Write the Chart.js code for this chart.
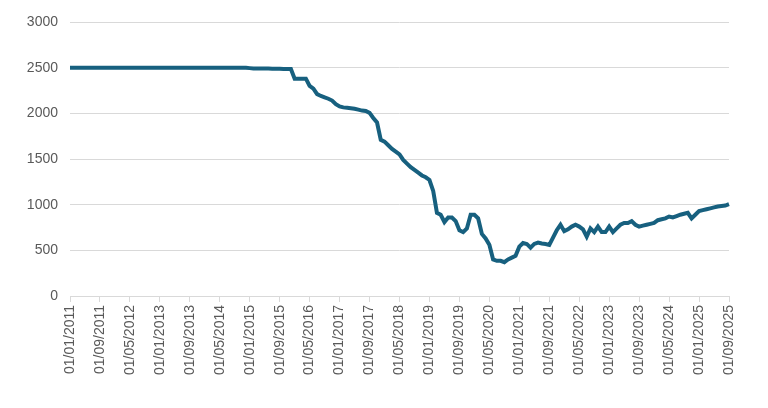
<!DOCTYPE html>
<html>
<head>
<meta charset="utf-8">
<script src="https://cdn.jsdelivr.net/npm/chart.js@4"></script>
<style>
  html, body { margin: 0; background: #fff; }
  #wrap { width: 768px; height: 408px; }
</style>
</head>
<body>
<div id="wrap"><canvas id="c"></canvas></div>
<script>
// monthly labels, 01/01/2011 .. 01/09/2025
const labels = [];
for (let y = 2011, m = 1; y < 2025 || (y === 2025 && m <= 9); ) {
  labels.push('01/' + String(m).padStart(2, '0') + '/' + y);
  m++; if (m > 12) { m = 1; y++; }
}

const values = [
  2500, 2500, 2500, 2500, 2500, 2500, 2500, 2500, 2500, 2500, 2500, 2500,
  2500, 2500, 2500, 2500, 2500, 2500, 2500, 2500, 2500, 2500, 2500, 2500,
  2500, 2500, 2500, 2500, 2500, 2500, 2500, 2500, 2500, 2500, 2500, 2500,
  2500, 2500, 2500, 2500, 2500, 2500, 2500, 2500, 2500, 2500, 2500, 2500,
  2495, 2490, 2490, 2490, 2490, 2490, 2488, 2488, 2488, 2485, 2485, 2485,
  2380, 2380, 2380, 2380, 2300, 2270, 2210, 2190, 2175, 2160, 2140, 2100,
  2075, 2065, 2060, 2055, 2050, 2040, 2030, 2025, 2005, 1950, 1900, 1710,
  1690, 1650, 1610, 1580, 1550, 1490, 1450, 1410, 1380, 1350, 1320, 1300,
  1270, 1150, 910, 890, 810, 860, 860, 820, 720, 700, 740, 890,
  890, 850, 680, 630, 560, 400, 385, 385, 370, 400, 420, 440,
  540, 580, 570, 530, 570, 585, 575, 570, 560, 640, 720, 780,
  710, 730, 760, 780, 760, 730, 650, 740, 700, 760, 700, 700,
  760, 700, 740, 780, 800, 800, 820, 780, 760, 770, 780, 790,
  800, 830, 840, 850, 870, 860, 875, 890, 900, 910, 850, 890,
  930, 940, 950, 960, 970, 980, 985, 990, 1005
];

const yTicks = [0, 500, 1000, 1500, 2000, 2500, 3000];

const theme = { text: '#595959', grid: '#d9d9d9', line: '#17607f' };
const font = { family: 'Liberation Sans, Arial', size: 14 };

new Chart(document.getElementById('c'), {
  type: 'line',
  data: {
    labels,
    datasets: [{
      data: values,
      borderColor: theme.line,
      borderWidth: 4,
      pointRadius: 0,
      tension: 0,
    }],
  },
  options: {
    responsive: true,
    maintainAspectRatio: false,
    animation: false,
    layout: { padding: { top: 22, right: 39, left: 6, bottom: 0 } },
    plugins: { legend: { display: false }, tooltip: { enabled: false } },
    scales: {
      x: {
        offset: false,
        afterFit: s => { s.height = 112; },
        grid: {
          drawOnChartArea: false,
          tickLength: 6,
          color: ctx => (ctx.index % 8 === 0 ? theme.grid : 'rgba(0,0,0,0)'),
        },
        border: { color: theme.grid },
        ticks: {
          autoSkip: false,
          maxRotation: 90, minRotation: 90,
          color: theme.text,
          font,
          callback: (v, i) => (i % 8 === 0 ? labels[i] : ''),
        },
      },
      y: {
        min: 0, max: 3000,
        afterBuildTicks: s => { s.ticks = yTicks.map(v => ({ value: v })); },
        afterFit: s => { s.width = 64; },
        grid: { color: theme.grid, drawTicks: false },
        border: { display: false },
        ticks: {
          padding: 12,
          color: theme.text,
          font,
          callback: v => String(v),
        },
      },
    },
  },
});
</script>
</body>
</html>
